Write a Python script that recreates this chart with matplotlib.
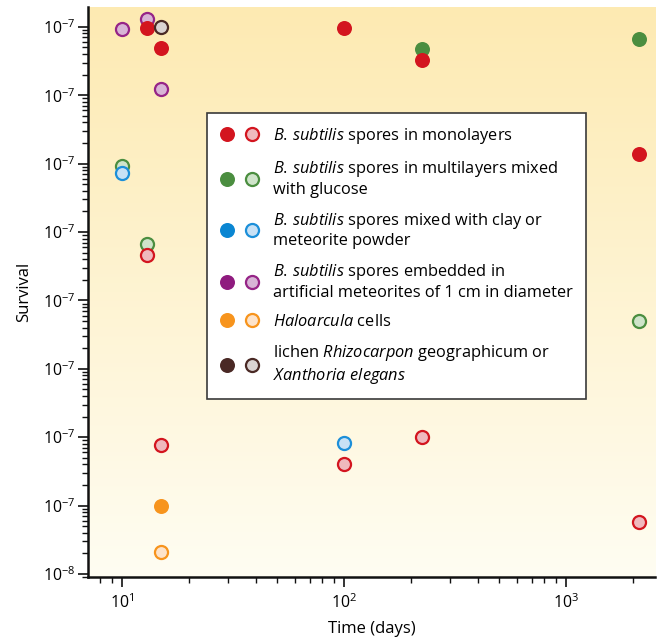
import matplotlib
matplotlib.use("Agg")
import matplotlib.pyplot as plt
import numpy as np
from matplotlib.legend_handler import HandlerTuple
from matplotlib.ticker import FixedLocator, FixedFormatter, LogLocator, NullFormatter

plt.rcParams['font.family'] = ['Open Sans', 'DejaVu Sans']
plt.rcParams['mathtext.fontset'] = 'custom'
plt.rcParams['mathtext.rm'] = 'Open Sans'
plt.rcParams['mathtext.it'] = 'Open Sans:italic'

# data (days, survival)
mono_filled_x = [13, 15, 100, 224, 2130]
mono_filled_y = [0.97, 0.49, 0.95, 0.33, 0.0139]
mono_open_x = [13, 15, 100, 224, 2130]
mono_open_y = [4.6e-4, 7.7e-7, 4.0e-7, 1.0e-6, 5.8e-8]

multi_filled_x = [224, 2130]
multi_filled_y = [0.48, 0.67]
multi_open_x = [10, 13, 2130]
multi_open_y = [0.0093, 6.7e-4, 5.0e-5]

clay_open_x = [10, 100]
clay_open_y = [0.0073, 8.3e-7]

meteor_open_x = [10, 13, 15]
meteor_open_y = [0.93, 1.3, 0.124]

halo_filled_x = [15]
halo_filled_y = [1.0e-7]
halo_open_x = [15]
halo_open_y = [2.1e-8]

lichen_open_x = [15]
lichen_open_y = [1.0]

labels = [
    r"$\mathit{B.\,subtilis}$ spores in monolayers",
    "$\\mathit{B.\\,subtilis}$ spores in multilayers mixed\nwith glucose",
    "$\\mathit{B.\\,subtilis}$ spores mixed with clay or\nmeteorite powder",
    "$\\mathit{B.\\,subtilis}$ spores embedded in\nartificial meteorites of 1 cm in diameter",
    r"$\mathit{Haloarcula}$ cells",
    "lichen $\\mathit{Rhizocarpon}$ geographicum or\n$\\mathit{Xanthoria\\ elegans}$",
]
# (filled colour, open face, open edge)
colors = [
    ("#D3151F", "#EFB9BE", "#D3151F"),
    ("#4B8E40", "#CFE4CA", "#4B8E40"),
    ("#0A86D2", "#C8E1F5", "#1C8FD9"),
    ("#8F1B7F", "#D8B4D6", "#962487"),
    ("#F7941D", "#FDE3CA", "#F7941D"),
    ("#4A2925", "#DAD3D2", "#4A2925"),
]
y_tick_vals = [1e-8, 1e-7, 1e-6, 1e-5, 1e-4, 1e-3, 1e-2, 1e-1, 1e0]
y_tick_text = ["$10^{-8}$"] + ["$10^{-7}$"] * 8
x_tick_vals = [10, 100, 1000]
x_tick_text = ["$10^{1}$", "$10^{2}$", "$10^{3}$"]

fig = plt.figure(figsize=(6.6, 6.39), dpi=100)
ax = fig.add_axes([0.1333, 0.097, 0.8591, 0.892])
ax.set_xscale('log')
ax.set_yscale('log')
ax.set_autoscale_on(False)
ax.set_xlim(7.03, 2520)
ax.set_ylim(9.0e-9, 1.95)

# vertical yellow gradient behind the points
top = np.array([253, 234, 178]) / 255.0
bot = np.array([255, 253, 242]) / 255.0
t = np.linspace(0, 1, 256)[:, None]
grad = (top * (1 - t) + bot * t)[:, None, :]
ax.imshow(grad, extent=[0, 1, 0, 1], transform=ax.transAxes,
          aspect='auto', zorder=0, interpolation='bilinear')
ax.set_xlim(7.03, 2520)
ax.set_ylim(9.0e-9, 1.95)

fs, os_, mew = 10.8, 9.4, 1.6

def filled(x, y, c):
    return ax.plot(x, y, 'o', ms=fs, mfc=c[0], mec=c[0], mew=0, zorder=3)[0]

def hollow(x, y, c):
    return ax.plot(x, y, 'o', ms=os_, mfc=c[1], mec=c[2], mew=mew, zorder=3)[0]

hollow(multi_open_x, multi_open_y, colors[1])
filled(multi_filled_x, multi_filled_y, colors[1])
hollow(meteor_open_x, meteor_open_y, colors[3])
hollow(clay_open_x, clay_open_y, colors[2])
hollow(mono_open_x, mono_open_y, colors[0])
filled(mono_filled_x, mono_filled_y, colors[0])
hollow(lichen_open_x, lichen_open_y, colors[5])
filled(halo_filled_x, halo_filled_y, colors[4])
hollow(halo_open_x, halo_open_y, colors[4])

# legend proxies (two circles per entry)
handles = []
for c in colors:
    h1 = plt.Line2D([], [], ls='none', marker='o', ms=fs, mfc=c[0], mec=c[0], mew=0)
    h2 = plt.Line2D([], [], ls='none', marker='o', ms=os_, mfc=c[1], mec=c[2], mew=mew)
    handles.append((h1, h2))

leg = ax.legend(handles, labels, handler_map={tuple: HandlerTuple(ndivide=None, pad=0.68)},
                loc='upper left', bbox_to_anchor=(0.21, 0.814), fontsize=11.8,
                frameon=True, fancybox=False, framealpha=1, edgecolor='#3a3a3a',
                handlelength=2.35, handletextpad=0.9, labelspacing=0.8,
                borderpad=0.8, borderaxespad=0)
leg.get_frame().set_linewidth(1.2)
for tx in leg.get_texts():
    tx.set_linespacing(1.2)
leg.set_zorder(5)

for s in ['top', 'right']:
    ax.spines[s].set_visible(False)
for s in ['left', 'bottom']:
    ax.spines[s].set_linewidth(1.8)
    ax.spines[s].set_color('#111111')

ax.yaxis.set_major_locator(FixedLocator(y_tick_vals))
ax.yaxis.set_major_formatter(FixedFormatter(y_tick_text))
ax.yaxis.set_minor_locator(LogLocator(base=10, subs=np.arange(2, 10)))
ax.yaxis.set_minor_formatter(NullFormatter())
ax.xaxis.set_major_locator(FixedLocator(x_tick_vals))
ax.xaxis.set_major_formatter(FixedFormatter(x_tick_text))
ax.xaxis.set_minor_locator(LogLocator(base=10, subs=np.arange(2, 10)))
ax.xaxis.set_minor_formatter(NullFormatter())

ax.tick_params(which='major', direction='out', length=7, width=1.2, labelsize=11.5,
               color='#111111', pad=2)
ax.tick_params(axis='x', which='major', pad=5)
ax.tick_params(which='minor', direction='out', length=4, width=1.0, color='#111111')

ax.set_xlabel("Time (days)", fontsize=12, labelpad=6)
ax.set_ylabel("Survival", fontsize=12, labelpad=8)

fig.savefig("out.png", dpi=100)
